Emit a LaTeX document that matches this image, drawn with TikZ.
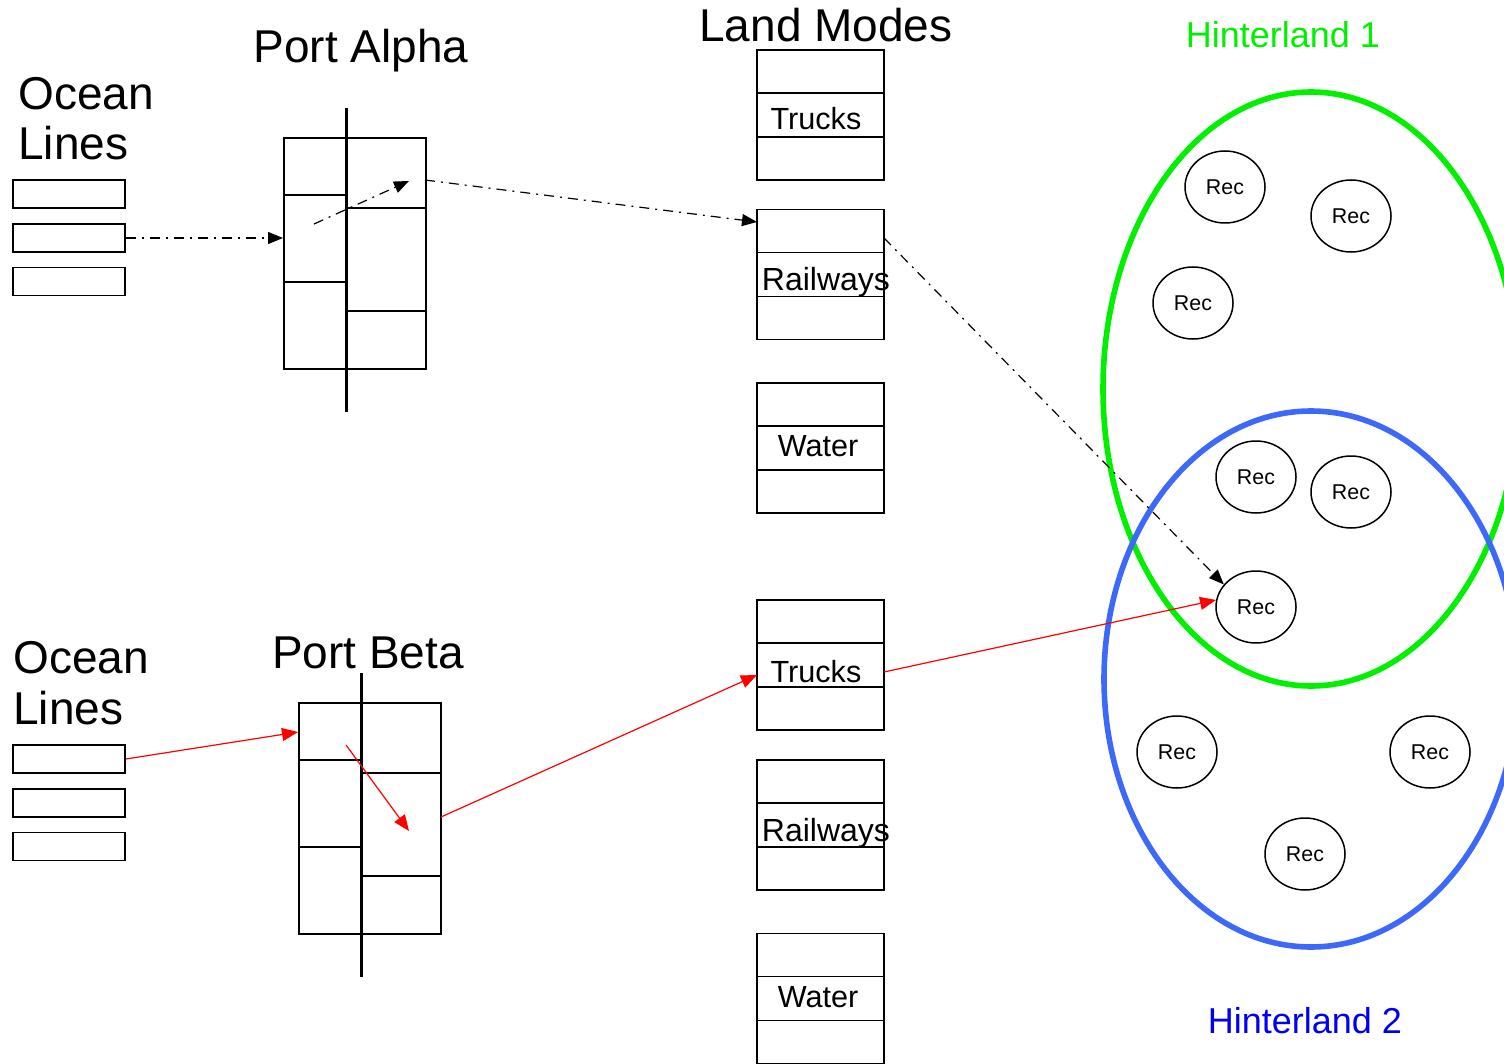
\documentclass[tikz,border=0pt]{standalone}
\usepackage{fontspec}
\setmainfont{Liberation Sans}
\usepackage{xcolor}
\usetikzlibrary{shapes.geometric,arrows.meta}
\definecolor{hgreen}{RGB}{0,240,0}
\definecolor{hblue}{RGB}{60,105,250}
\definecolor{htblue}{RGB}{0,0,240}
\definecolor{flowred}{RGB}{255,0,0}

\tikzset{
  title/.style={font=\fontsize{23}{25}\selectfont, inner sep=0pt},
  modelabel/.style={font=\fontsize{15.3}{17}\selectfont, inner sep=0pt},
  linebox/.style={draw, line width=0.9pt, minimum width=56pt, minimum height=14pt, inner sep=0pt},
  portbox/.style={draw, line width=0.9pt, minimum width=71pt, minimum height=115.5pt, inner sep=0pt, anchor=north west},
  modebox/.style={draw, line width=0.9pt, minimum width=63.5pt, minimum height=65pt, inner sep=0pt},
  rec/.style={ellipse, draw, line width=0.75pt, minimum width=40pt, minimum height=36pt, inner sep=0pt, font=\fontsize{10.7}{12}\selectfont},
  hinter/.style={ellipse, line width=2.8pt, inner sep=0pt},
  dashdot/.style={line width=0.6pt, dash pattern=on 5pt off 3pt on 1pt off 3pt, -{Triangle[length=7.5pt,width=6pt]}},
  redflow/.style={flowred, line width=0.6pt, -{Triangle[length=8pt,width=6.5pt]}}
}

\begin{document}
\begin{tikzpicture}[x=0.5pt, y=-0.5pt]
\useasboundingbox (0,0) rectangle (1504,1064);

% hinterlands
\node[hinter, draw=hgreen, minimum width=208pt, minimum height=297pt] (h1) at (1311,389) {};
\node[hinter, draw=hblue, minimum width=207pt, minimum height=268pt] (h2) at (1311,679) {};
\node[title, font=\fontsize{18}{20}\selectfont, text=hgreen, anchor=base] (h1text) at (1283,48) {Hinterland 1};
\node[title, font=\fontsize{18}{20}\selectfont, text=htblue, anchor=base] (h2text) at (1305,1033) {Hinterland 2};

% receivers
\foreach \i/\x/\y in {1/1225/187, 2/1351/216, 3/1193/303, 4/1256/477, 5/1351/492,
                      6/1256/607, 7/1177/752, 8/1430/752, 9/1305/854}
  \node[rec] (r\i) at (\x,\y) {Rec};

% ocean lines
\node[title, anchor=base west] (oceanA) at (18,110) {Ocean};
\node[title, anchor=base west] (linesA) at (18,160) {Lines};
\node[title, anchor=base west] (oceanB) at (13,673) {Ocean};
\node[title, anchor=base west] (linesB) at (13,724) {Lines};
\node[linebox] (ocA1) at (69,194) {};
\node[linebox, line width=1.3pt] (ocA2) at (69,238) {};
\node[linebox] (ocA3) at (69,281.5) {};
\node[linebox] (ocB1) at (69,759) {};
\node[linebox] (ocB2) at (69,803) {};
\node[linebox] (ocB3) at (69,846.5) {};

% ports
\node[title, anchor=base] (alphatext) at (361,63) {Port Alpha};
\node[title, anchor=base] (betatext) at (368,668) {Port Beta};
\foreach \nm/\lx/\ty in {alpha/283/137, beta/298/702} {
  \node[portbox] (\nm) at (\lx,\ty) {};
  \draw[line width=0.9pt] (\lx,{\ty+58}) -- ({\lx+63},{\ty+58})
                          (\lx,{\ty+145}) -- ({\lx+63},{\ty+145})
                          ({\lx+63},{\ty+71}) -- ({\lx+142},{\ty+71})
                          ({\lx+63},{\ty+174}) -- ({\lx+142},{\ty+174});
  \draw[line width=1.5pt] ({\lx+63},{\ty-29}) -- ({\lx+63},{\ty+275});
}

% land modes
\node[title, anchor=base] (landtext) at (826,42) {Land Modes};
\foreach \nm/\y/\lbl/\dx/\dy/\fs in {truckA/115/Trucks/816/15/15.3, railA/274.5/Railways/826/16/16,
                                     waterA/448/Water/818/8/15.3, truckB/665/Trucks/816/17/15.3,
                                     railB/825/Railways/826/16/16, waterB/998.5/Water/818/8.5/15.3} {
  \node[modebox] (\nm) at (820.5,\y) {};
  \draw[line width=0.9pt] (757,{\y-22}) -- (884,{\y-22}) (757,{\y+22}) -- (884,{\y+22});
  \node[modelabel, font=\fontsize{\fs}{17}\selectfont, anchor=base] (\nm text) at (\dx,{\y+\dy}) {\lbl};
}

% flows through Port Alpha
\coordinate (a1) at (314,224);
\coordinate (a2) at (409,181);
\coordinate (a3) at (425,180);
\coordinate (a4) at (757,222);
\coordinate (a5) at (884,238);
\draw[dashdot] (ocA2.east) -- (ocA2.east -| alpha.west);
\draw[dashdot] (a1) -- (a2);
\draw[dashdot] (a3) -- (a4);
\draw[dashdot] (a5) -- (r6.145);

% flows through Port Beta
\coordinate (b1) at (298,732);
\coordinate (b2) at (346,745);
\coordinate (b3) at (409,831);
\coordinate (b4) at (441,817);
\coordinate (b5) at (757,675);
\coordinate (b6) at (884,672);
\draw[redflow] (ocB1.east) -- (b1);
\draw[redflow] (b2) -- (b3);
\draw[redflow] (b4) -- (b5);
\draw[redflow] (b6) -- (r6.170);
\end{tikzpicture}
\end{document}
